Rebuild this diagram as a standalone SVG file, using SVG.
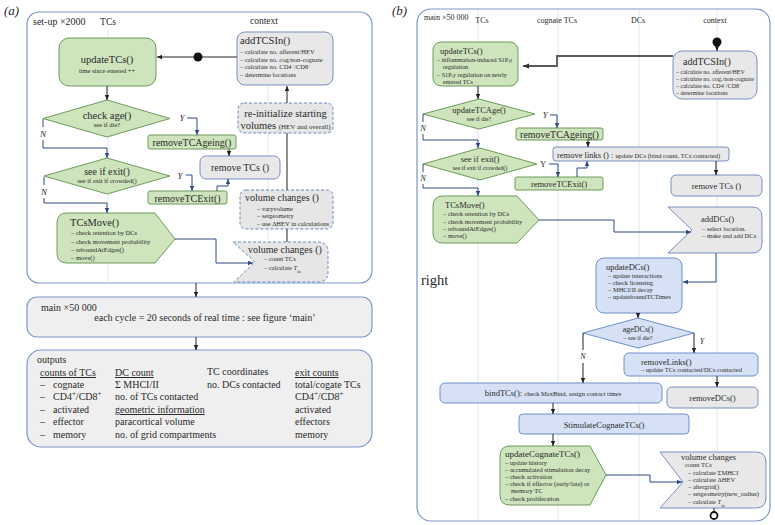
<svg xmlns="http://www.w3.org/2000/svg" width="775" height="525" viewBox="0 0 775 525">
<style>
text{font-family:"Liberation Serif","Times New Roman",serif;fill:#2a2a2a}
.frame{fill:#fff;stroke:#7d97cc;stroke-width:1.2}
.grn{fill:#cde4bd;stroke:#6f9a5c;stroke-width:1}
.gry{fill:#e8e8e8;stroke:#7890c4;stroke-width:1}
.dsh{fill:#e6e6e6;stroke:#6f88c0;stroke-width:1;stroke-dasharray:3 2}
.blu{fill:#d6e1f5;stroke:#6f8fcc;stroke-width:1}
.pan{fill:#efefef;stroke:#7d97cc;stroke-width:1.2}
.lane{stroke:#dfe6f1;stroke-width:1}
.c{fill:none;stroke:#2e4a85;stroke-width:1}
.k{fill:none;stroke:#222;stroke-width:1}
.g{fill:none;stroke:#5a5a5a;stroke-width:1.8}
.m{text-anchor:middle}
.i{font-style:italic}
.u{text-decoration:underline}
.s{font-size:6.5px}
.s6{font-size:6px}
.t10{font-size:10px}
.t85{font-size:8.5px}
</style>
<defs>
<marker id="ab" viewBox="0 0 8 8" refX="8" refY="4" markerWidth="5" markerHeight="5" orient="auto" markerUnits="userSpaceOnUse"><path d="M0,0.5 L8,4 L0,7.5z" fill="#2e4a85"/></marker>
<marker id="ak" viewBox="0 0 8 8" refX="8" refY="4" markerWidth="5" markerHeight="5" orient="auto" markerUnits="userSpaceOnUse"><path d="M0,0.5 L8,4 L0,7.5z" fill="#222"/></marker>
<marker id="ag" viewBox="0 0 8 8" refX="8" refY="4" markerWidth="6" markerHeight="6" orient="auto" markerUnits="userSpaceOnUse"><path d="M0,0.5 L8,4 L0,7.5z" fill="#333"/></marker>
</defs>

<!-- Panel a -->
<text x="4" y="15" font-size="13" class="i">(a)</text>
<g id="setup-frame">
<rect x="27" y="12" width="345" height="271" rx="12" class="frame"/>
<line x1="108" y1="30" x2="108" y2="283" class="lane"/>
<line x1="268" y1="30" x2="268" y2="283" class="lane"/>
<text x="33" y="25" class="t10">set-up ×2000</text>
<text x="108" y="25" font-size="9.5" class="m">TCs</text>
<text x="264" y="24" font-size="9.5" class="m">context</text>
</g>

<g id="a-updateTCs">
<rect x="59" y="38" width="97" height="48" rx="10" class="grn"/>
<text x="107" y="63" font-size="10.5" class="m">updateTCs()</text>
<text x="107" y="73" class="s m">time since entered ++</text>
</g>
<g id="a-start"><circle cx="198" cy="57" r="4.5" fill="#111"/></g>
<g id="a-addTCSIn">
<rect x="237" y="32" width="96" height="53" rx="8" class="gry"/>
<text x="240" y="44" font-size="10.5">addTCSIn()</text>
<text x="240" y="54" class="s">–  calculate no. afferent/HEV</text>
<text x="240" y="61.5" class="s">–  calculate no. cog/non-cognate</text>
<text x="240" y="69" class="s">–  calculate no. CD4<tspan baseline-shift="super" font-size="70%">+</tspan>/CD8<tspan baseline-shift="super" font-size="70%">+</tspan></text>
<text x="240" y="76.5" class="s">–  determine locations</text>
</g>
<g id="a-checkAge">
<polygon points="107,100 170,118.5 107,137 43,118.5" class="grn"/>
<text x="107" y="119" font-size="10.5" class="m">check age()</text>
<text x="107" y="127" class="s m">see if die?</text>
</g>
<g id="a-removeTCAgeing">
<rect x="148" y="135" width="88" height="14" rx="2" class="grn"/>
<text x="192" y="146" class="t10 m">removeTCAgeing()</text>
</g>
<g id="a-seeIfExit">
<polygon points="107,158 170,176 107,194 44,176" class="grn"/>
<text x="107" y="175" class="t10 m">see if exit()</text>
<text x="107" y="183" class="s m">see if exit if crowded()</text>
</g>
<g id="a-removeTCExit">
<rect x="148" y="191" width="79" height="13" rx="2" class="grn"/>
<text x="187.5" y="201.5" class="t10 m">removeTCExit()</text>
</g>
<g id="a-removeTCs">
<rect x="200" y="156" width="80" height="23" rx="6" class="gry"/>
<text x="240" y="171" class="t10 m">remove TCs ()</text>
</g>
<g id="a-reinit">
<rect x="238" y="103" width="95" height="30" rx="6" class="dsh"/>
<text x="285.5" y="117" font-size="10.5" class="m">re-initialize starting</text>
<text x="285.5" y="129" font-size="10.5" class="m">volumes <tspan font-size="7">(HEV and overall)</tspan></text>
</g>
<g id="a-volumeChanges1">
<rect x="240" y="190" width="93" height="39" rx="6" class="dsh"/>
<text x="245" y="201" class="t10">volume changes ()</text>
<text x="257" y="210.5" class="s">–  varyvolume</text>
<text x="257" y="218" class="s">–  setgeometry</text>
<text x="257" y="226" class="s">–  use ΔHEV in calculations</text>
</g>
<g id="a-TCsMove">
<path d="M67,213 H155 L175,239 L155,263 H67 Q57,263 57,253 V223 Q57,213 67,213 Z" class="grn"/>
<text x="70" y="226" font-size="10.5">TCsMove()</text>
<text x="71" y="235" class="s">–   check retention by DCs</text>
<text x="71" y="244" class="s">–   check movement probability</text>
<text x="71" y="252" class="s">–   reboundAtEdges()</text>
<text x="71" y="260" class="s">–   move()</text>
</g>
<g id="a-volumeChanges2">
<path d="M233,242 H318 Q328,242 328,252 V272 Q328,282 318,282 H234 L255,262 Z" class="dsh"/>
<text x="248" y="253" class="t10">volume changes ()</text>
<text x="264" y="261" class="s">–  count TCs</text>
<text x="264" y="270" class="s">–  calculate <tspan font-style="italic">T</tspan><tspan baseline-shift="sub" font-size="70%">in</tspan></text>
</g>
<g id="a-main">
<rect x="27" y="297" width="345" height="40" rx="10" class="pan"/>
<text x="41" y="311" class="t10">main  ×50 000</text>
<text x="205" y="321" class="t10 m">each cycle = 20 seconds of real time : see figure ‘main’</text>
</g>
<g id="a-outputs">
<rect x="27" y="350" width="345" height="97" rx="14" class="pan"/>
<text x="37" y="363" class="t10">outputs</text>
<text x="40" y="376" class="t10 u">counts of TCs</text>
<text x="40" y="388" class="t10">–</text><text x="53" y="388" class="t10">cognate</text>
<text x="40" y="400" class="t10">–</text><text x="53" y="400" class="t10">CD4<tspan baseline-shift="super" font-size="70%">+</tspan>/CD8<tspan baseline-shift="super" font-size="70%">+</tspan></text>
<text x="40" y="413" class="t10">–</text><text x="53" y="413" class="t10">activated</text>
<text x="40" y="425" class="t10">–</text><text x="53" y="425" class="t10">effector</text>
<text x="40" y="438" class="t10">–</text><text x="53" y="438" class="t10">memory</text>
<text x="115" y="376" class="t10 u">DC count</text>
<text x="115" y="388" class="t10">Σ MHCI/II</text>
<text x="115" y="400" class="t10">no. of TCs contacted</text>
<text x="115" y="413" class="t10 u">geometric information</text>
<text x="115" y="425" class="t10">paracortical volume</text>
<text x="115" y="438" class="t10">no. of grid compartments</text>
<text x="207" y="375" class="t10">TC coordinates</text>
<text x="207" y="388" class="t10">no. DCs contacted</text>
<text x="295" y="376" class="t10 u">exit counts</text>
<text x="295" y="388" class="t10">total/cogate TCs</text>
<text x="295" y="400" class="t10">CD4<tspan baseline-shift="super" font-size="70%">+</tspan>/CD8<tspan baseline-shift="super" font-size="70%">+</tspan></text>
<text x="295" y="413" class="t10">activated</text>
<text x="295" y="425" class="t10">effectors</text>
<text x="295" y="438" class="t10">memory</text>
</g>

<!-- Panel b -->
<text x="392" y="15" font-size="13" class="i">(b)</text>
<g id="main-frame">
<rect x="417" y="9" width="353" height="512" rx="14" class="frame"/>
<line x1="478" y1="10" x2="478" y2="520" class="lane"/>
<line x1="558" y1="10" x2="558" y2="520" class="lane"/>
<line x1="639" y1="10" x2="639" y2="520" class="lane"/>
<line x1="717" y1="10" x2="717" y2="520" class="lane"/>
<text x="424" y="20" font-size="8">main ×50 000</text>
<text x="482" y="23" font-size="8" class="m">TCs</text>
<text x="557" y="23" font-size="8" class="m">cognate TCs</text>
<text x="638" y="23" font-size="8" class="m">DCs</text>
<text x="715" y="23" font-size="8" class="m">context</text>
<text x="421" y="285" font-size="14.5">right</text>
</g>
<g id="b-start"><circle cx="717" cy="42" r="4.5" fill="#111"/></g>
<g id="b-addTCSIn">
<rect x="673" y="51" width="84" height="48" rx="9" class="gry"/>
<text x="683" y="65" class="t10">addTCSIn()</text>
<text x="676" y="73.5" class="s6">–  calculate no. afferent/HEV</text>
<text x="676" y="80.5" class="s6">–  calculate no. cog./non-cognate</text>
<text x="676" y="87.5" class="s6">–  calculate no. CD4<tspan baseline-shift="super" font-size="70%">+</tspan>/CD8<tspan baseline-shift="super" font-size="70%">+</tspan></text>
<text x="676" y="94.5" class="s6">–  determine locations</text>
</g>
<g id="b-updateTCs">
<rect x="433" y="42" width="85" height="44" rx="8" class="grn"/>
<text x="440" y="54" class="t85">updateTCs()</text>
<text x="437" y="62" font-size="6.2">– inflammation-induced S1P<tspan baseline-shift="-1" font-size="70%">1</tspan>r</text>
<text x="443" y="69.3" font-size="6.2">regulation</text>
<text x="437" y="76.6" font-size="6.2">– S1P<tspan baseline-shift="-1" font-size="70%">1</tspan>r regulation on newly</text>
<text x="443" y="83.9" font-size="6.2">entered TCs</text>
</g>
<g id="b-updateTCAge">
<polygon points="479,99 535,114 479,129 423,114" class="grn"/>
<text x="479" y="113" class="t85 m">updateTCAge()</text>
<text x="479" y="121" class="s6 m">see if die?</text>
</g>
<g id="b-removeTCAgeing">
<rect x="516" y="128" width="87" height="12" rx="2" class="grn"/>
<text x="559.5" y="138" class="t10 m">removeTCAgeing()</text>
</g>
<g id="b-removeLinks1">
<rect x="553" y="147" width="176" height="14" rx="3" class="gry"/>
<text x="557" y="157.5" class="t85">remove links () : <tspan class="s">update DCs (bind count, TCs contacted)</tspan></text>
</g>
<g id="b-removeTCs">
<rect x="671" y="175" width="91" height="21" rx="5" class="gry"/>
<text x="716.5" y="189" class="t85 m">remove TCs ()</text>
</g>
<g id="b-seeIfExit">
<polygon points="480,148 537,164 480,180 423,164" class="grn"/>
<text x="480" y="162" class="t85 m">see if exit()</text>
<text x="480" y="170" class="s6 m">see if exit if crowded()</text>
</g>
<g id="b-removeTCExit">
<rect x="515" y="177" width="88" height="13" rx="2" class="grn"/>
<text x="559" y="187" class="t85 m">removeTCExit()</text>
</g>
<g id="b-TCsMove">
<path d="M443,196 H517 L539,220 L517,243 H443 Q433,243 433,233 V206 Q433,196 443,196 Z" class="grn"/>
<text x="445" y="208" class="t85">TCsMove()</text>
<text x="443" y="216" class="s">–  check retention by DCs</text>
<text x="443" y="224" class="s">–  check movement probability</text>
<text x="443" y="231" class="s">–  reboundAtEdges()</text>
<text x="443" y="238" class="s">–  move()</text>
</g>
<g id="b-addDCs">
<path d="M668,207 H752 Q762,207 762,217 V243 Q762,253 752,253 H668 L692,230 Z" class="gry"/>
<text x="701" y="222" class="t85">addDCs()</text>
<text x="702" y="231" class="s">– select location.</text>
<text x="702" y="238" class="s">– make and add DCs</text>
</g>
<g id="b-updateDCs">
<rect x="596" y="258" width="86" height="55" rx="8" class="blu"/>
<text x="606" y="270" class="t85">updateDCs()</text>
<text x="608" y="277.5" class="s">–  update interactions</text>
<text x="608" y="284.5" class="s">–  check licensing</text>
<text x="608" y="291.5" class="s">–  MHCI/II decay</text>
<text x="608" y="298.5" class="s">–  updateboundTCTimes</text>
</g>
<g id="b-ageDCs">
<polygon points="638,318 694,333 638,348 583,333" class="blu"/>
<text x="638" y="332" font-size="8" class="m">ageDCs()</text>
<text x="638" y="340" class="s6 m">–  see if die?</text>
</g>
<g id="b-removeLinks2">
<rect x="624" y="353" width="134" height="23" rx="5" class="blu"/>
<text x="641" y="364.5" class="t85">removeLinks()</text>
<text x="641" y="371.5" class="s">–  update TCs contacted/DCs contacted</text>
</g>
<g id="b-removeDCs">
<rect x="667" y="387" width="91" height="21" rx="5" class="gry"/>
<text x="712.5" y="401" class="t85 m">removeDCs()</text>
</g>
<g id="b-bindTCs">
<rect x="440" y="383" width="222" height="20" rx="5" class="blu"/>
<text x="553" y="396" class="t85 m">bindTCs(): <tspan class="s">check MaxBind,  assign contact times</tspan></text>
</g>
<g id="b-stimulate">
<rect x="519" y="414" width="170" height="20" rx="4" class="blu"/>
<text x="604" y="427.5" class="t85 m">StimulateCognateTCs()</text>
</g>
<g id="b-updateCognateTCs">
<path d="M510,446 H590 L606,475 L590,505 H510 Q500,505 500,495 V456 Q500,446 510,446 Z" class="grn"/>
<text x="505" y="457" font-size="9">updateCognateTCs()</text>
<text x="505" y="464.5" class="s">– update history</text>
<text x="505" y="471.5" class="s">– accumulated stimulation decay</text>
<text x="505" y="478.5" class="s">– check activation</text>
<text x="505" y="486" class="s">– check if effector (early/late) or</text>
<text x="511" y="493" class="s">memory TC</text>
<text x="505" y="500.5" class="s">– check proliferation</text>
</g>
<g id="b-volumeChanges">
<path d="M660,452 H756 Q766,452 766,462 V498 Q766,508 756,508 H660 L683,482 Z" class="gry"/>
<text x="681" y="460" class="t85">volume changes</text>
<text x="685" y="467" class="s">count TCs</text>
<text x="688" y="474.5" class="s">–  calculate ΣMHCI</text>
<text x="688" y="481.5" class="s">–  calculate ΔHEV</text>
<text x="688" y="489" class="s">–  altergrid()</text>
<text x="688" y="496" class="s">–  setgeometry(new_radius)</text>
<text x="688" y="503.5" class="s">–  calculate <tspan font-style="italic">T</tspan><tspan baseline-shift="sub" font-size="70%">in</tspan></text>
</g>
<g id="b-end"><circle cx="714" cy="515.5" r="3.5" fill="#fff" stroke="#111" stroke-width="1.8"/></g>

<g id="connectors">
<!-- a -->
<path d="M194,57 H157" class="k" marker-end="url(#ak)"/>
<path d="M202,57 H237" class="k"/>
<path d="M107,86 V100" class="k" marker-end="url(#ak)"/>
<path d="M187,118 H197 V135" class="c" marker-end="url(#ab)"/>
<path d="M43,119 V127 M43,140 V148 H107 V158" class="c" marker-end="url(#ab)"/>
<path d="M229,149 V156" class="k" marker-end="url(#ak)"/>
<path d="M186,175 H192 V191" class="c" marker-end="url(#ab)"/>
<path d="M44,177 V185 M44,198 V203 H107 V213" class="c" marker-end="url(#ab)"/>
<path d="M217,191 V186 H228 V179" class="c" marker-end="url(#ab)"/>
<path d="M175,239 H216 V263 H253" class="c" marker-end="url(#ab)"/>
<path d="M287,103 V86" class="k" marker-end="url(#ak)"/>
<path d="M287,190 V133" class="k"/>
<path d="M287,229 V242" class="k"/>
<path d="M196,283 V297" class="k" marker-end="url(#ak)"/>
<path d="M196,337 V350" class="k" marker-end="url(#ak)"/>
<text x="182" y="121" font-size="9" class="i m">Y</text>
<text x="43" y="137" font-size="9" class="i m">N</text>
<text x="180" y="179" font-size="9" class="i m">Y</text>
<text x="44" y="195" font-size="9" class="i m">N</text>
<!-- b -->
<path d="M717,46 V51" class="k" marker-end="url(#ak)"/>
<path d="M673,56 H557 V66 H523" class="g" marker-end="url(#ag)"/>
<path d="M478,86 V99" class="k" marker-end="url(#ak)"/>
<path d="M550,115 H557 V128" class="c" marker-end="url(#ab)"/>
<path d="M423,114 V122 M423,134 V140 H478 V148" class="c" marker-end="url(#ab)"/>
<path d="M588,140 V147" class="k" marker-end="url(#ak)"/>
<path d="M716,161 V175" class="k" marker-end="url(#ak)"/>
<path d="M549,164 H558 V177" class="c" marker-end="url(#ab)"/>
<path d="M577,177 V168 H587 V161" class="c" marker-end="url(#ab)"/>
<path d="M423,164 V172 M423,184 V188 H478 V196" class="c" marker-end="url(#ab)"/>
<path d="M539,220 H614 V232 H691" class="c" marker-end="url(#ab)"/>
<path d="M716,253 V282 H683" class="c" marker-end="url(#ab)"/>
<path d="M638,313 V318" class="k" marker-end="url(#ak)"/>
<path d="M694,333 V353" class="k" marker-end="url(#ak)"/>
<path d="M583,333 V350 M583,363 V383" class="k" marker-end="url(#ak)"/>
<path d="M717,376 V387" class="k" marker-end="url(#ak)"/>
<path d="M553,403 V414" class="k" marker-end="url(#ak)"/>
<path d="M553,434 V446" class="k" marker-end="url(#ak)"/>
<path d="M606,475 H650 V482 H682" class="c" marker-end="url(#ab)"/>
<path d="M714,508 V512" class="k"/>
<text x="545" y="118" font-size="8.5" class="i m">Y</text>
<text x="423" y="131" font-size="8.5" class="i m">N</text>
<text x="543" y="167" font-size="8.5" class="m">Y</text>
<text x="423" y="181" font-size="8.5" class="i m">N</text>
<text x="702" y="344" font-size="8" class="i m">Y</text>
<text x="583" y="359" font-size="8" class="i m">N</text>
</g>
</svg>
